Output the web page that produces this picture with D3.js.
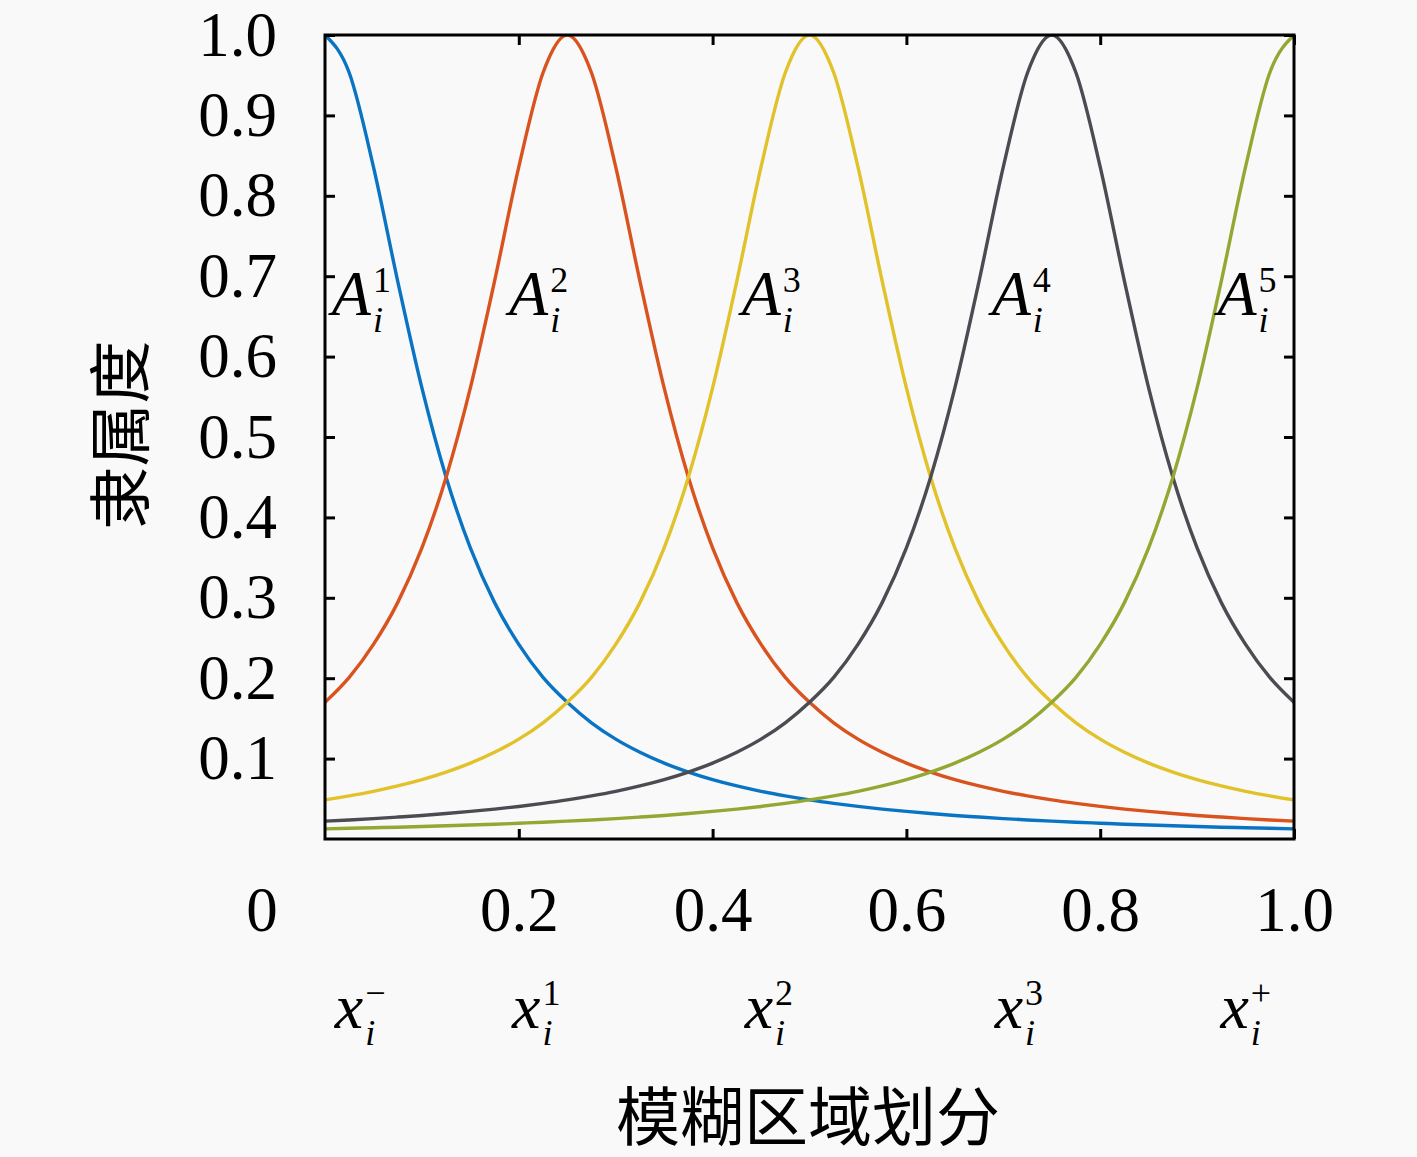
<!DOCTYPE html>
<html>
<head>
<meta charset="utf-8">
<script src="https://cdn.jsdelivr.net/npm/d3@7"></script>
<style>
  body { margin: 0; background: #f9f9f9; }
  svg { display: block; }
</style>
</head>
<body>
<svg id="chart" width="1417" height="1157"></svg>
<script>

// x positions of the read-off points
const xGrid = [0, 0.025, 0.05, 0.075, 0.1, 0.125, 0.15, 0.175, 0.2, 0.225,
  0.25, 0.275, 0.3, 0.325, 0.35, 0.375, 0.4, 0.425, 0.45, 0.475,
  0.5, 0.525, 0.55, 0.575, 0.6, 0.625, 0.65, 0.675, 0.7, 0.725,
  0.75, 0.775, 0.8, 0.825, 0.85, 0.875, 0.9, 0.925, 0.95, 0.975, 1.0];

// membership values
const A1 = [1, 0.953, 0.836, 0.694, 0.561, 0.450, 0.362, 0.294, 0.242, 0.201,
  0.170, 0.1445, 0.1242, 0.1079, 0.0944, 0.0833, 0.0739, 0.0660, 0.0593, 0.0536,
  0.0486, 0.0443, 0.0405, 0.0372, 0.0343, 0.0317, 0.0293, 0.0273, 0.0254, 0.0237,
  0.0222, 0.0208, 0.0196, 0.0184, 0.0174, 0.0164, 0.0155, 0.0147, 0.0140, 0.0133, 0.0126];

const A2 = [0.170, 0.201, 0.242, 0.294, 0.362, 0.450, 0.561, 0.694, 0.836, 0.953,
  1, 0.953, 0.836, 0.694, 0.561, 0.450, 0.362, 0.294, 0.242, 0.201,
  0.170, 0.1445, 0.1242, 0.1079, 0.0944, 0.0833, 0.0739, 0.0660, 0.0593, 0.0536,
  0.0486, 0.0443, 0.0405, 0.0372, 0.0343, 0.0317, 0.0293, 0.0273, 0.0254, 0.0237, 0.0222];

const A3 = [0.0486, 0.0536, 0.0593, 0.0660, 0.0739, 0.0833, 0.0944, 0.1079, 0.1242, 0.1445,
  0.170, 0.201, 0.242, 0.294, 0.362, 0.450, 0.561, 0.694, 0.836, 0.953,
  1, 0.953, 0.836, 0.694, 0.561, 0.450, 0.362, 0.294, 0.242, 0.201,
  0.170, 0.1445, 0.1242, 0.1079, 0.0944, 0.0833, 0.0739, 0.0660, 0.0593, 0.0536, 0.0486];

const A4 = [0.0222, 0.0237, 0.0254, 0.0273, 0.0293, 0.0317, 0.0343, 0.0372, 0.0405, 0.0443,
  0.0486, 0.0536, 0.0593, 0.0660, 0.0739, 0.0833, 0.0944, 0.1079, 0.1242, 0.1445,
  0.170, 0.201, 0.242, 0.294, 0.362, 0.450, 0.561, 0.694, 0.836, 0.953,
  1, 0.953, 0.836, 0.694, 0.561, 0.450, 0.362, 0.294, 0.242, 0.201, 0.170];

const A5 = [0.0126, 0.0133, 0.0140, 0.0147, 0.0155, 0.0164, 0.0174, 0.0184, 0.0196, 0.0208,
  0.0222, 0.0237, 0.0254, 0.0273, 0.0293, 0.0317, 0.0343, 0.0372, 0.0405, 0.0443,
  0.0486, 0.0536, 0.0593, 0.0660, 0.0739, 0.0833, 0.0944, 0.1079, 0.1242, 0.1445,
  0.170, 0.201, 0.242, 0.294, 0.362, 0.450, 0.561, 0.694, 0.836, 0.953, 1];

const series = [A1, A2, A3, A4, A5];
const colors = ["#0a74c4", "#d9531e", "#e2c22a", "#4b4b52", "#92a832"];

const yTicks = [0.1, 0.2, 0.3, 0.4, 0.5, 0.6, 0.7, 0.8, 0.9, 1.0];
const xTicks = [0.2, 0.4, 0.6, 0.8, 1.0];

// curve annotations  A_i^k  and region labels  x_i^k
const curveSup = ["1", "2", "3", "4", "5"];
const regionSup = ["\u2212", "1", "2", "3", "+"];
const labelX = [0.007, 0.190, 0.430, 0.688, 0.921];
const labelY = 0.652;

const yTitle = "隶属度";
const xTitle = "模糊区域划分";

const svg = d3.select("#chart"),
    margin = {top: 35, right: 123, bottom: 318, left: 325},
    width = 1417 - margin.left - margin.right,
    height = 1157 - margin.top - margin.bottom;

const serif = "'Liberation Serif', 'Times New Roman', serif";
const cjk = "'Noto Sans CJK SC', sans-serif";

svg.append("rect")
    .attr("width", 1417).attr("height", 1157)
    .attr("fill", "#f9f9f9");

const g = svg.append("g")
    .attr("transform", "translate(" + margin.left + "," + margin.top + ")");

const x = d3.scaleLinear().domain([0, 1]).range([0, width]);
const y = d3.scaleLinear().domain([0, 1]).range([height, 0]);

g.append("clipPath").attr("id", "plotClip")
  .append("rect")
    .attr("width", width).attr("height", height);

const line = d3.line()
    .x((d, i) => x(xGrid[i]))
    .y(d => y(d))
    .curve(d3.curveMonotoneX);

series.forEach((s, i) => {
  g.append("path")
      .datum(s)
      .attr("clip-path", "url(#plotClip)")
      .attr("fill", "none")
      .attr("stroke", colors[i])
      .attr("stroke-width", 3.4)
      .attr("d", line);
});

function styleAxis(sel) {
  sel.select(".domain").remove();
  sel.selectAll(".tick line").attr("stroke", "#000").attr("stroke-width", 3);
  sel.selectAll(".tick text")
      .attr("fill", "#000")
      .style("font-family", serif)
      .style("font-size", "63px");
}

// left axis with labels
g.append("g")
    .call(d3.axisLeft(y).tickValues(yTicks).tickSize(-10).tickPadding(48)
      .tickFormat(d3.format(".1f")))
    .call(styleAxis);

// right axis, ticks only
g.append("g")
    .attr("transform", "translate(" + width + ",0)")
    .call(d3.axisRight(y).tickValues(yTicks).tickSize(-10).tickFormat(""))
    .call(styleAxis);

// bottom axis
g.append("g")
    .attr("transform", "translate(0," + height + ")")
    .call(d3.axisBottom(x).tickValues(xTicks).tickSize(-10).tickPadding(47)
      .tickFormat(d3.format(".1f")))
    .call(styleAxis);

// top axis, ticks only
g.append("g")
    .call(d3.axisTop(x).tickValues(xTicks).tickSize(-10).tickFormat(""))
    .call(styleAxis);

// shared origin label
g.append("text")
    .attr("x", x(0) - 63)
    .attr("y", height + 47)
    .attr("dy", "0.71em")
    .attr("text-anchor", "middle")
    .style("font-family", serif)
    .style("font-size", "63px")
    .text("0");

// frame
g.append("rect")
    .attr("width", width).attr("height", height)
    .attr("fill", "none")
    .attr("stroke", "#000")
    .attr("stroke-width", 3);

function mathLabel(px, py, base, sup, sub) {
  const t = g.append("g")
      .attr("transform", "translate(" + px + "," + py + ")")
      .style("font-family", serif);
  const b = t.append("text")
      .style("font-style", "italic")
      .style("font-size", "64px")
      .text(base);
  const w = b.node().getComputedTextLength();
  t.append("text")
      .attr("x", w + 2).attr("y", -23)
      .style("font-size", "36px")
      .text(sup);
  t.append("text")
      .attr("x", w + 2).attr("y", 17)
      .style("font-style", "italic")
      .style("font-size", "36px")
      .text(sub);
}

labelX.forEach((lx, i) => {
  mathLabel(x(lx), y(labelY), "A", curveSup[i], "i");
  mathLabel(x(lx) + 3, height + 189, "x", regionSup[i], "i");
});

// axis titles
svg.append("text")
    .attr("transform", "translate(115,435) rotate(-90)")
    .attr("text-anchor", "middle")
    .attr("dominant-baseline", "central")
    .style("font-family", cjk)
    .style("font-size", "63px")
    .text(yTitle);

svg.append("text")
    .attr("x", 808)
    .attr("y", 1112)
    .attr("text-anchor", "middle")
    .attr("dominant-baseline", "central")
    .style("font-family", cjk)
    .style("font-size", "64px")
    .text(xTitle);

</script>
</body>
</html>
